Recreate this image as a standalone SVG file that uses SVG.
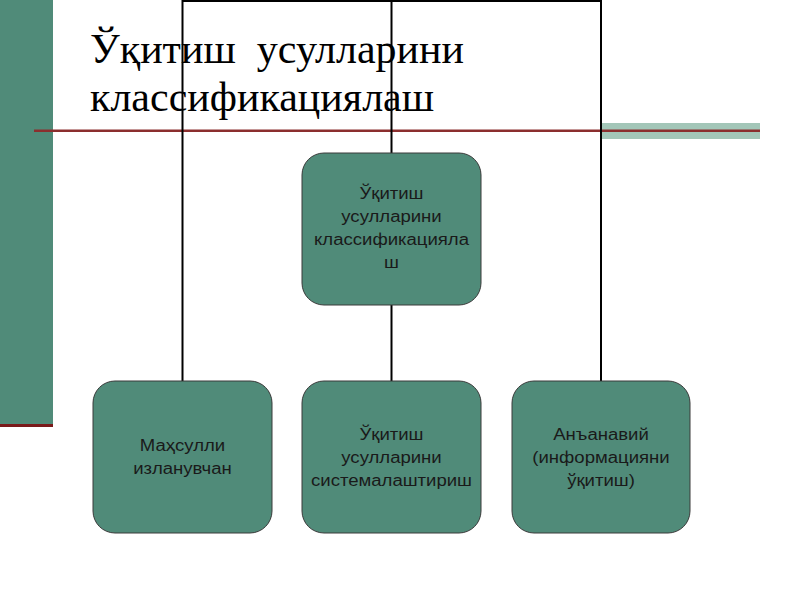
<svg xmlns="http://www.w3.org/2000/svg" width="800" height="600" viewBox="0 0 800 600">
<style>
.box{fill:#508b79;stroke:#3a3a3a;stroke-width:1}
.lbl{font-family:"Liberation Sans",Arial,sans-serif;font-size:16px;fill:#1a1a1a;text-anchor:middle}
.title{font-family:"Liberation Serif","Times New Roman",serif;font-size:42px;fill:#000;white-space:pre}
.conn{stroke:#000;stroke-width:2;fill:none}
</style>
<rect width="800" height="600" fill="#fff"/>
<g id="decor">
<rect x="0" y="0" width="53" height="425" fill="#508b79"/>
<rect x="0" y="424" width="53" height="3" fill="#7a1a1a"/>
<rect x="601" y="123" width="159" height="16" fill="#a3c6b8"/>
<rect x="34" y="129.5" width="726" height="2.5" fill="#8b2e2e"/>
</g>
<g id="title">
<text class="title" x="90" y="63" xml:space="preserve">Ўқитиш  усулларини</text>
<text class="title" x="90" y="111">классификациялаш</text>
</g>
<g id="connectors">
<polyline class="conn" points="182.5,381 182.5,1 601,1 601,381"/>
<line class="conn" x1="391.5" y1="1" x2="391.5" y2="153"/>
<line class="conn" x1="391.5" y1="305" x2="391.5" y2="381"/>
</g>
<g id="root">
<rect class="box" x="302" y="153" width="179" height="152" rx="22"/>
<g transform="translate(391.5,0) scale(1.16,1)">
<text class="lbl" x="0" y="199">Ўқитиш</text>
<text class="lbl" x="0" y="222">усулларини</text>
<text class="lbl" x="0" y="245">классификацияла</text>
<text class="lbl" x="0" y="268">ш</text>
</g>
</g>
<g id="node-left">
<rect class="box" x="93" y="381" width="179" height="152" rx="22"/>
<g transform="translate(182.5,0) scale(1.16,1)">
<text class="lbl" x="0" y="451">Маҳсулли</text>
<text class="lbl" x="0" y="474">изланувчан</text>
</g>
</g>
<g id="node-center">
<rect class="box" x="302" y="381" width="179" height="152" rx="22"/>
<g transform="translate(391.5,0) scale(1.16,1)">
<text class="lbl" x="0" y="440">Ўқитиш</text>
<text class="lbl" x="0" y="463">усулларини</text>
<text class="lbl" x="0" y="486">системалаштириш</text>
</g>
</g>
<g id="node-right">
<rect class="box" x="512" y="381" width="178" height="152" rx="22"/>
<g transform="translate(601,0) scale(1.16,1)">
<text class="lbl" x="0" y="440">Анъанавий</text>
<text class="lbl" x="0" y="463">(информацияни</text>
<text class="lbl" x="0" y="486">ўқитиш)</text>
</g>
</g>
</svg>
